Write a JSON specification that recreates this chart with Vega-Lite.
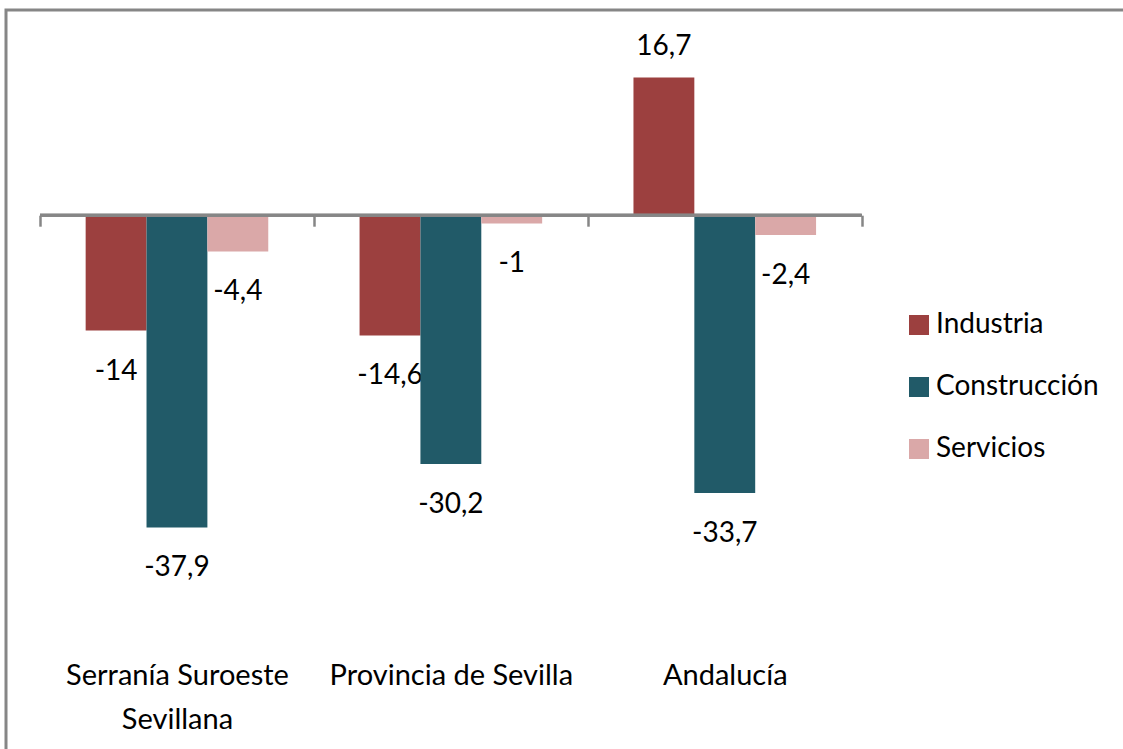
{
  "$schema": "https://vega.github.io/schema/vega-lite/v6.json",
  "width": 1120,
  "height": 760,
  "autosize": {"type": "none"},
  "padding": {"left": 6, "top": 10, "right": 0, "bottom": 0},
  "background": "white",
  "config": {
    "view": {"stroke": "#868686", "strokeWidth": 3},
    "font": "Lato",
    "locale": {"number": {"decimal": ",", "thousands": ".", "grouping": [3], "currency": ["", " €"], "minus": "-"}},
    "legend": {
      "orient": "none", "legendX": 899, "legendY": 301, "padding": 0,
      "labelFont": "Lato", "labelFontSize": 28, "labelColor": "#000000",
      "symbolType": "square", "symbolSize": 400, "symbolStrokeWidth": 0, "symbolOpacity": 1,
      "rowPadding": 34, "labelOffset": 3, "labelLimit": 300
    }
  },
  "data": {
    "values": [
      {"zona": "Serranía Suroeste Sevillana", "sector": "Industria", "valor": -14},
      {"zona": "Serranía Suroeste Sevillana", "sector": "Construcción", "valor": -37.9},
      {"zona": "Serranía Suroeste Sevillana", "sector": "Servicios", "valor": -4.4},
      {"zona": "Provincia de Sevilla", "sector": "Industria", "valor": -14.6},
      {"zona": "Provincia de Sevilla", "sector": "Construcción", "valor": -30.2},
      {"zona": "Provincia de Sevilla", "sector": "Servicios", "valor": -1},
      {"zona": "Andalucía", "sector": "Industria", "valor": 16.7},
      {"zona": "Andalucía", "sector": "Construcción", "valor": -33.7},
      {"zona": "Andalucía", "sector": "Servicios", "valor": -2.4}
    ]
  },
  "encoding": {
    "x": {
      "field": "zona", "type": "nominal",
      "sort": ["Serranía Suroeste Sevillana", "Provincia de Sevilla", "Andalucía"],
      "scale": {"paddingInner": 0, "paddingOuter": 0.5445, "align": 0.114, "round": false},
      "axis": {
        "title": null, "orient": "bottom", "offset": -554.8,
        "domain": false, "tickBand": "extent", "tickSize": 11, "tickWidth": 2.5, "tickColor": "#868686",
        "labelFont": "Lato", "labelFontSize": 29, "labelColor": "#000000", "labelAngle": 0,
        "labelPadding": 435, "labelBaseline": "top", "labelLineHeight": 44, "labelLimit": 400,
        "labelOverlap": false, "labelFlush": false,
        "labelExpr": "datum.value == 'Serranía Suroeste Sevillana' ? ['Serranía Suroeste', 'Sevillana'] : datum.value"
      }
    },
    "y": {
      "field": "valor", "type": "quantitative",
      "scale": {"domain": [-67.33, 24.9], "nice": false, "zero": false},
      "axis": null
    }
  },
  "layer": [
    {
      "transform": [{"filter": "datum.valor >= 0"}],
      "mark": {"type": "text", "baseline": "alphabetic", "align": "center", "dy": -23, "font": "Lato", "fontSize": 28, "color": "#000000"},
      "encoding": {
        "xOffset": {"field": "sector", "type": "nominal", "sort": ["Industria", "Construcción", "Servicios"], "scale": {"paddingInner": 0, "paddingOuter": 0.75}},
        "text": {"field": "valor", "type": "quantitative", "format": "~g"}
      }
    },
    {
      "transform": [{"filter": "datum.valor < 0"}],
      "mark": {"type": "text", "baseline": "alphabetic", "align": "center", "dy": 49, "font": "Lato", "fontSize": 28, "color": "#000000"},
      "encoding": {
        "xOffset": {"field": "sector", "type": "nominal", "sort": ["Industria", "Construcción", "Servicios"], "scale": {"paddingInner": 0, "paddingOuter": 0.75}},
        "text": {"field": "valor", "type": "quantitative", "format": "~g"}
      }
    },
    {
      "mark": {"type": "bar"},
      "encoding": {
        "xOffset": {"field": "sector", "type": "nominal", "sort": ["Industria", "Construcción", "Servicios"], "scale": {"paddingInner": 0, "paddingOuter": 0.75}},
        "y2": {"datum": 0},
        "color": {
          "field": "sector", "type": "nominal",
          "sort": ["Industria", "Construcción", "Servicios"],
          "scale": {"domain": ["Industria", "Construcción", "Servicios"], "range": ["#9C403F", "#215A68", "#DAA8A8"]},
          "legend": {"title": null}
        }
      }
    },
    {
      "mark": {"type": "rect", "fill": null, "stroke": "#868686", "strokeWidth": 3, "strokeJoin": "bevel"},
      "encoding": {
        "y": {"datum": 0},
        "y2": {"datum": 0}
      }
    }
  ]
}
